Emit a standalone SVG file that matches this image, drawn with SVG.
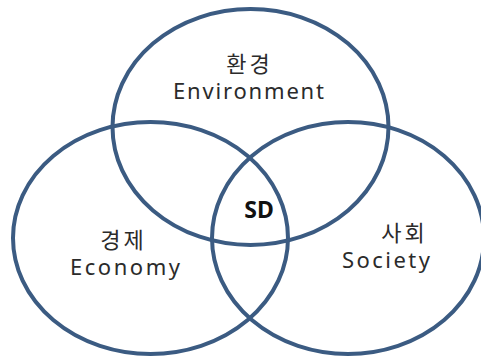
<svg xmlns="http://www.w3.org/2000/svg" width="481" height="357" viewBox="0 0 481 357">
<style>
.c{fill:none;stroke:#3b5b82;stroke-width:4}
.t{font-family:"Noto Sans","Noto Sans CJK KR",sans-serif;font-size:22px;fill:#2b2b2b;text-anchor:middle}
.k{font-family:"Noto Sans CJK KR",sans-serif;font-size:22px;letter-spacing:3px}
.b{font-weight:bold;fill:#111;font-size:23px}
</style>
<rect width="481" height="357" fill="#fff"/>
<g id="environment">
<ellipse class="c" cx="250.5" cy="127" rx="138" ry="118"/>
<text class="t k" x="249.5" y="72">환경</text>
<text class="t" x="248.5" y="99" textLength="151" lengthAdjust="spacing">Environment</text>
</g>
<g id="economy">
<ellipse class="c" cx="150.5" cy="238" rx="137.5" ry="116"/>
<text class="t k" x="123.5" y="248">경제</text>
<text class="t" x="125" y="275" textLength="110" lengthAdjust="spacing">Economy</text>
</g>
<g id="society">
<ellipse class="c" cx="348" cy="238" rx="136" ry="116"/>
<text class="t k" x="404.5" y="241">사회</text>
<text class="t" x="386" y="268" textLength="88" lengthAdjust="spacing">Society</text>
</g>
<g id="sd">
<text class="t b" x="259" y="218">SD</text>
</g>
</svg>
